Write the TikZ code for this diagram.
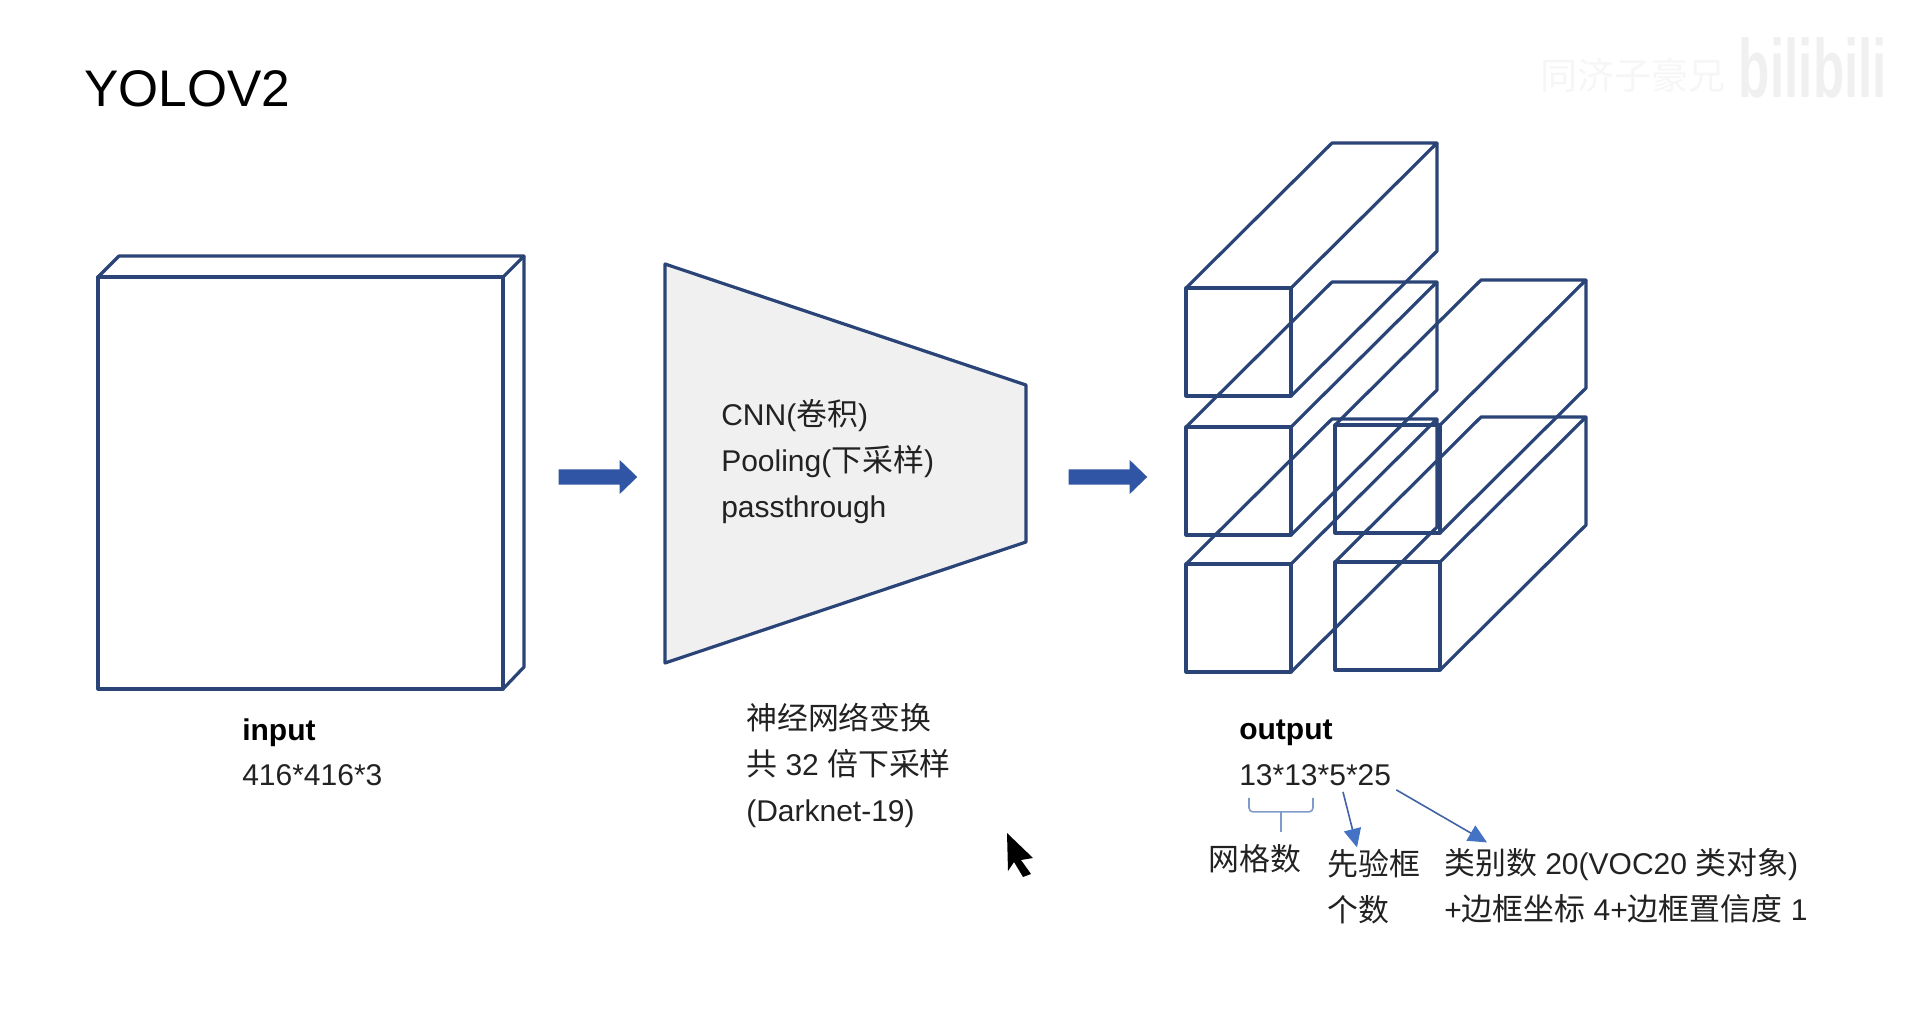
\documentclass[tikz,border=0pt]{standalone}
\usepackage{fontspec}
\setmainfont{Liberation Sans}
\newfontfamily\cjk[Scale=1.03]{Noto Sans CJK SC}
\usetikzlibrary{arrows.meta, calc, shapes.arrows}
\definecolor{edgeblue}{HTML}{2A4478}
\definecolor{fatblue}{HTML}{2F55A4}
\definecolor{leadblue}{HTML}{4163A6}
\definecolor{tipblue}{HTML}{4472C4}
\definecolor{bracegray}{HTML}{7F9BC7}
\definecolor{inktext}{HTML}{222222}
\tikzset{
  edge/.style={draw=edgeblue, line width=2.4pt, line join=round},
  lbl/.style={inner sep=0pt, anchor=west, align=left, text=inktext,
              font=\fontsize{22.5}{34.5}\selectfont},
  boldlbl/.style={lbl, text=black, font=\fontsize{22.5}{34.5}\selectfont\bfseries},
  fatarr/.style={single arrow, fill=fatblue, inner xsep=0pt, inner ysep=5.5pt, minimum height=59pt,
                 minimum width=24pt, single arrow head extend=7pt,
                 single arrow tip angle=88, single arrow head indent=0pt},
  lead/.style={draw=leadblue, line width=1.2pt,
               -{Triangle[length=14pt, width=13pt, color=tipblue, fill=tipblue]}},
  brace/.style={draw=bracegray, line width=1.2pt, rounded corners=3pt},
}
\begin{document}
\begin{tikzpicture}[x=0.75pt, y=-0.75pt]
  \useasboundingbox (0,0) rectangle (1918,1022);
  \node[inner sep=0pt, anchor=west, font=\fontsize{38.6}{40}\selectfont, text=black] (title) at (84,89) {YOLOV2};
  % watermark
  \node[inner sep=0pt, text=gray!7, font=\cjk\fontsize{27}{27}\selectfont] (wmname) at (1633,75) {同济子豪兄};
  \node[inner sep=0pt, text=gray!12, transform shape, xscale=0.62,
        font=\fontsize{62}{62}\selectfont\bfseries] (wmlogo) at (1813,68) {bilibili};
  % input
  \draw[edge] (98,277) rectangle (503,689);
  \draw[edge] (98,277) -- (119,256) -- (524,256) -- (503,277);
  \draw[edge] (524,256) -- (524,667) -- (503,689);
  \node[boldlbl] (inputname) at (242,733) {input};
  \node[lbl] (inputsize) at (242,775) {416*416*3};
  \node[fatarr] (arrowa) at (594,477) {};
  % network
  \draw[edge, fill=gray!12] (665,264) -- (1026,385) -- (1026,542) -- (665,663) -- cycle;
  \node[lbl] (layers) at (721,462) {CNN(\cjk 卷积\rmfamily)\\Pooling(\cjk 下采样\rmfamily)\\passthrough};
  \node[lbl] (network) at (746,765) {\cjk 神经网络变换\rmfamily\\\cjk 共\rmfamily{} 32 \cjk 倍下采样\rmfamily\\(Darknet-19)};
  \node[fatarr] (arrowb) at (1104,477) {};
  % output
  \foreach \bx/\by in {1186/288, 1186/427, 1186/564, 1335/425, 1335/562} {
    \draw[edge] (\bx,\by) rectangle ++(105,108);
    \draw[edge] (\bx,\by) -- ++(146,-145) -- ++(105,0) -- ++(-146,145);
    \draw[edge] (\bx+251,\by-145) -- ++(0,108) -- (\bx+105,\by+108);
  }
  \node[boldlbl] (outputname) at (1239,733) {output};
  \node[lbl] (dims) at (1239,775) {13*13*5*25};
  \node[lbl] (cells) at (1208,859) {\cjk 网格数};
  \node[lbl] (priors) at (1327,887) {\cjk 先验框\rmfamily\\\cjk 个数};
  \node[lbl] (classes) at (1444,886) {\cjk 类别数\rmfamily{} 20(VOC20 \cjk 类对象\rmfamily)\\+\cjk 边框坐标\rmfamily{} 4+\cjk 边框置信度\rmfamily{} 1};
  \draw[brace] ($(dims.south west)+(10,12)$) |- ($(dims.south west)+(74,26)$) -- ($(dims.south west)+(74,12)$);
  \draw[brace, rounded corners=0pt] ($(dims.south west)+(42,26)$) -- ($(cells.north west)+(73,-12)$);
  \draw[lead] ($(dims.south west)+(104,6)$) -- ($(priors.north west)+(30,-2)$);
  \draw[lead] ($(dims.south east)+(5,4)$) -- ($(classes.north west)+(43,-6)$);
  % mouse pointer
  \fill[black] (1007,833) -- (1033,858) -- (1021,860) -- (1031,874) -- (1023,877) -- (1014,862) -- (1008,871) -- cycle;
\end{tikzpicture}
\end{document}
